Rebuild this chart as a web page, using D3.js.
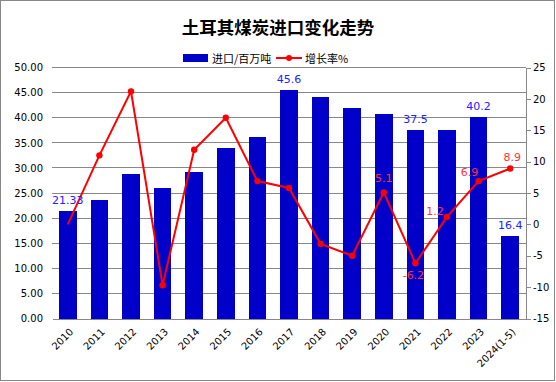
<!DOCTYPE html>
<html><head><meta charset="utf-8">
<script src="https://cdn.jsdelivr.net/npm/d3@7"></script>
<style>body{margin:0;background:#fff}svg{display:block}</style>
</head><body>
<svg id="c" width="556" height="382"></svg>
<script>
const categories = ["2010","2011","2012","2013","2014","2015","2016","2017","2018","2019","2020","2021","2022","2023","2024(1-5)"];
const imports = [21.33,23.7,28.7,25.9,29.1,33.9,36.2,45.6,44.2,42.0,40.8,37.5,37.5,40.2,16.4];
const growth = [0,11.0,21.2,-9.7,11.9,17.0,6.9,5.8,-3.1,-5.0,5.1,-6.2,1.2,6.9,8.9];
const leftTicks = [0,5,10,15,20,25,30,35,40,45,50];
const rightTicks = [-15,-10,-5,0,5,10,15,20,25];
const barLabels = {"2010":"21.33","2017":"45.6","2021":"37.5","2023":"40.2","2024(1-5)":"16.4"};
const lineLabels = {"2020":"5.1","2021":"-6.2","2022":"1.2","2023":"6.9","2024(1-5)":"8.9"};
const title = "土耳其煤炭进口变化走势";
const legendNames = ["进口/百万吨","增长率%"];

const svg = d3.select("#c");
const L = 52, R = 526, T = 67.5, B = 318.5;
const numFont = "DejaVu Sans, Verdana, sans-serif";
const cjk = "'Noto Sans CJK SC', sans-serif";

svg.append("rect").attr("x",0.5).attr("y",0.5).attr("width",554).attr("height",380)
  .attr("fill","#fff").attr("stroke","#888");

const x = d3.scaleBand().domain(categories).range([L,R]).paddingInner(0.8/1.8).paddingOuter(0.4/1.8);
const yL = d3.scaleLinear().domain([0,50]).range([B,T]);
const yR = d3.scaleLinear().domain([-15,25]).range([B,T]);

// gridlines
svg.append("g").selectAll("line").data(leftTicks.filter(d=>d>0)).join("line")
  .attr("x1",L).attr("x2",R).attr("y1",d=>yL(d)).attr("y2",d=>yL(d))
  .attr("stroke","#888").attr("stroke-width",1).attr("shape-rendering","crispEdges");

// bars
svg.append("g").selectAll("rect").data(categories).join("rect")
  .attr("x",d=>x(d)).attr("width",x.bandwidth())
  .attr("y",(d,i)=>yL(imports[i])).attr("height",(d,i)=>yL(0)-yL(imports[i]))
  .attr("fill","#0000C8").attr("shape-rendering","crispEdges");

// left axis
const gl = svg.append("g").attr("transform",`translate(${L},0)`)
  .call(d3.axisLeft(yL).tickValues(leftTicks).tickFormat(d3.format(".2f")).tickSize(0).tickPadding(9));
gl.select(".domain").remove();
gl.selectAll("text").attr("font-family",numFont).attr("font-size",10).attr("fill","#000");

// right axis
const gr = svg.append("g").attr("transform",`translate(${R},0)`)
  .call(d3.axisRight(yR).tickValues(rightTicks).tickFormat(d=>String(d)).tickSize(5).tickSizeOuter(0).tickPadding(2));
gr.selectAll("path,line").attr("stroke","#888").attr("shape-rendering","crispEdges");
gr.selectAll("text").attr("font-family",numFont).attr("font-size",10).attr("fill","#000");

// bottom axis
const gb = svg.append("g").attr("transform",`translate(0,${B})`)
  .call(d3.axisBottom(x).tickSize(0).tickSizeOuter(0));
gb.select(".domain").attr("stroke","#888").attr("shape-rendering","crispEdges");
gb.selectAll("text").attr("font-family",numFont).attr("font-size",10).attr("fill","#000")
  .attr("text-anchor","end").attr("dy",0)
  .attr("transform","translate(4,12) rotate(-45)");

// line
const cx = d=>x(d)+x.bandwidth()/2;
svg.append("path").datum(categories)
  .attr("d",d3.line().x(d=>cx(d)).y((d,i)=>yR(growth[i])))
  .attr("fill","none").attr("stroke","#ff0000").attr("stroke-width",2);
svg.append("g").selectAll("circle").data(categories.slice(1)).join("circle")
  .attr("cx",d=>cx(d)).attr("cy",d=>yR(growth[categories.indexOf(d)])).attr("r",3.2)
  .attr("fill","#ff0000");

// bar labels
svg.append("g").selectAll("text").data(Object.keys(barLabels)).join("text")
  .attr("x",d=>cx(d)).attr("y",d=>yL(imports[categories.indexOf(d)])-7)
  .attr("text-anchor","middle").attr("font-family",numFont).attr("font-size",11)
  .attr("fill","#2222ff").text(d=>barLabels[d]);

// line labels
const off = {"2020":[0,-10],"2021":[-2,16],"2022":[-12,-2],"2023":[-9,-5],"2024(1-5)":[2,-8]};
svg.append("g").selectAll("text").data(Object.keys(lineLabels)).join("text")
  .attr("x",d=>cx(d)+off[d][0]).attr("y",d=>yR(growth[categories.indexOf(d)])+off[d][1])
  .attr("text-anchor","middle").attr("font-family",numFont).attr("font-size",11)
  .attr("fill","#ff3333").text(d=>lineLabels[d]);

// title
svg.append("text").attr("x",278).attr("y",34).attr("text-anchor","middle")
  .attr("font-family",cjk).attr("font-size",17.5).attr("font-weight","bold").attr("fill","#000").text(title);

// legend
const lg = svg.append("g");
lg.append("rect").attr("x",183).attr("y",54).attr("width",25).attr("height",8).attr("fill","#0000C8");
lg.append("text").attr("x",212).attr("y",62.5).attr("font-family",cjk).attr("font-size",11).attr("fill","#000").text(legendNames[0]);
lg.append("line").attr("x1",276).attr("x2",302).attr("y1",58).attr("y2",58).attr("stroke","#ff0000").attr("stroke-width",2);
lg.append("circle").attr("cx",289).attr("cy",58).attr("r",3).attr("fill","#ff0000");
lg.append("text").attr("x",305).attr("y",62.5).attr("font-family",cjk).attr("font-size",11).attr("fill","#000").text(legendNames[1]);
</script>
</body></html>
